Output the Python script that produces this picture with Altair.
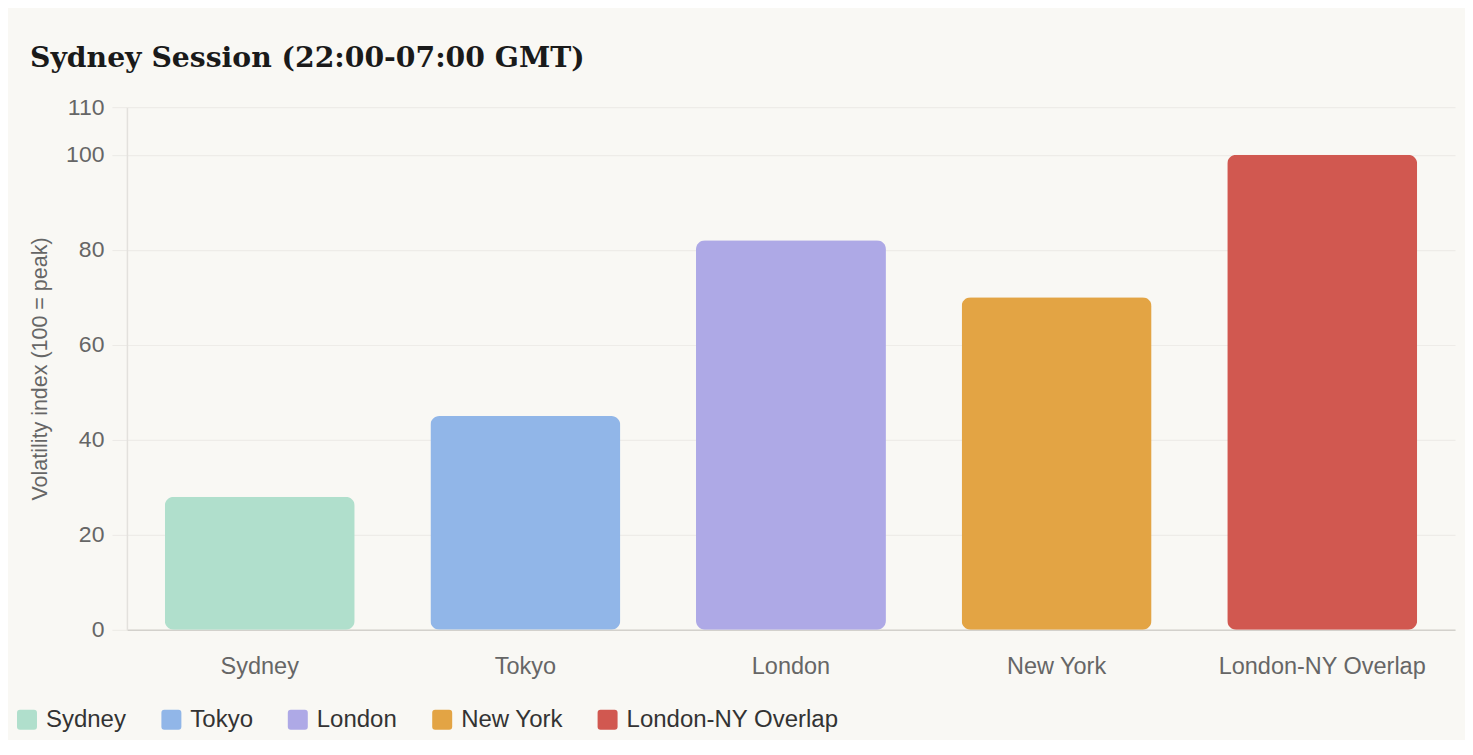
import altair as alt
import pandas as pd

sessions = ["Sydney", "Tokyo", "London", "New York", "London-NY Overlap"]
volatility = [28, 45, 82, 70, 100]
colors = ["#B0DFCC", "#91B6E8", "#AEA9E6", "#E3A444", "#D15850"]
y_ticks = [0, 20, 40, 60, 80, 100, 110]

df = pd.DataFrame({"session": sessions, "volatility": volatility})

rounded_square = ("M -0.7,-1 H 0.7 Q 1,-1 1,-0.7 V 0.7 Q 1,1 0.7,1 H -0.7 "
                  "Q -1,1 -1,0.7 V -0.7 Q -1,-1 -0.7,-1 Z")

font = "Liberation Sans"

chart = alt.Chart(df).mark_bar(cornerRadius=9).encode(
    x=alt.X("session:N", sort=sessions, title=None,
            scale=alt.Scale(paddingInner=0.285, paddingOuter=0.1425),
            axis=alt.Axis(labelAngle=0, ticks=False, labelPadding=25,
                          labelFontSize=23.5, labelColor="#666666", labelFont=font,
                          labelLimit=0, domainColor="#D3D1CC", domainWidth=1.5,
                          grid=False)),
    y=alt.Y("volatility:Q", title="Volatility index (100 = peak)",
            scale=alt.Scale(domain=[0, 110], nice=False),
            axis=alt.Axis(values=y_ticks, tickSize=15, tickColor="#ECEAE6",
                          labelPadding=8, labelFontSize=23, labelColor="#666666",
                          labelFont=font, titleFont=font, titleFontSize=21.5,
                          titleFontWeight="normal", titleColor="#666666",
                          titlePadding=14, domainColor="#E3E1DD", domainWidth=1.5,
                          gridColor="#EEECE8", gridWidth=1.2)),
    color=alt.Color("session:N", sort=sessions,
                    scale=alt.Scale(domain=sessions, range=colors),
                    legend=alt.Legend(orient="none", legendX=-112, legendY=601,
                                      direction="horizontal", title=None,
                                      symbolType=rounded_square, symbolSize=400,
                                      symbolStrokeWidth=0, labelFontSize=24,
                                      labelFont=font, labelColor="#333333",
                                      labelLimit=0, labelOffset=7, columnPadding=32.5,
                                      symbolOpacity=1)),
).properties(
    width=1329,
    height=523,
    title=alt.TitleParams("Sydney Session (22:00-07:00 GMT)", anchor="start",
                          font="DejaVu Serif", fontSize=28.3, fontWeight="bold",
                          color="#1A1A1A", dx=15, offset=23),
    background="#F9F8F4",
    padding={"left": 119, "top": 99, "right": 10, "bottom": 110},
    autosize=alt.AutoSizeParams(type="none"),
).configure_view(stroke=None)

chart.save("out.html", embed_options={"renderer": "svg", "actions": False})
